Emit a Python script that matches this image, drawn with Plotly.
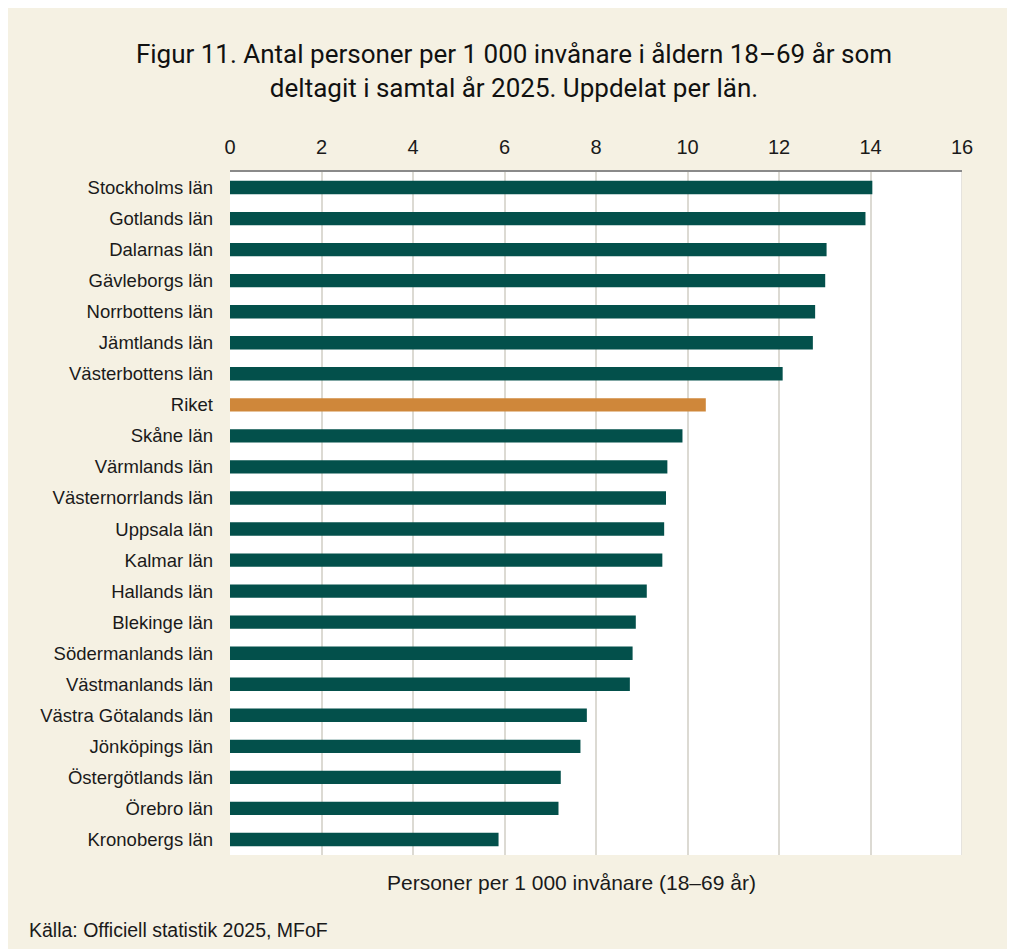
import plotly.graph_objects as go

categories = [
    "Stockholms län", "Gotlands län", "Dalarnas län", "Gävleborgs län",
    "Norrbottens län", "Jämtlands län", "Västerbottens län", "Riket",
    "Skåne län", "Värmlands län", "Västernorrlands län", "Uppsala län",
    "Kalmar län", "Hallands län", "Blekinge län", "Södermanlands län",
    "Västmanlands län", "Västra Götalands län", "Jönköpings län",
    "Östergötlands län", "Örebro län", "Kronobergs län",
]
values = [
    14.04, 13.89, 13.04, 13.01, 12.79, 12.74, 12.08, 10.40,
    9.89, 9.56, 9.53, 9.49, 9.45, 9.11, 8.87, 8.80,
    8.74, 7.80, 7.66, 7.23, 7.18, 5.87,
]
x_ticks = [0, 2, 4, 6, 8, 10, 12, 14, 16]

GREEN = "#03504B"
ORANGE = "#CF873A"
CREAM = "#F5F1E3"

colors = [ORANGE if c == "Riket" else GREEN for c in categories]

W, H = 1015, 949
OFF = 8  # page body margin
L, R, T, B = 222, 61, 164, 102
pw, ph = W - L - R, H - T - B

def px_x(p):
    return (p - OFF - L) / pw

def px_y(p):
    return (H - B - (p - OFF)) / ph

fig = go.Figure(go.Bar(
    x=values, y=categories, orientation="h",
    marker=dict(color=colors, line=dict(width=0)),
    width=0.43,
))

fig.update_layout(
    width=W, height=H,
    margin=dict(l=L, r=R, t=T, b=B),
    paper_bgcolor=CREAM,
    plot_bgcolor="white",
    showlegend=False,
    title=dict(
        text="Figur 11. Antal personer per 1 000 invånare i åldern 18–69 år som<br>deltagit i samtal år 2025. Uppdelat per län.",
        x=(514 - OFF) / W, xref="container", xanchor="center",
        y=1 - (63 - OFF) / H, yref="container", yanchor="top",
        font=dict(family="Roboto, sans-serif", size=26, color="#111111"),
    ),
    xaxis=dict(
        side="top", range=[0, 16], tickvals=x_ticks,
        showgrid=True, gridcolor="#DCDAD3", gridwidth=1.5,
        zeroline=False,
        showline=True, linecolor="#8A8A8A", linewidth=1.5, mirror=False,
        ticks="", ticklabelstandoff=8,
        tickfont=dict(family="Liberation Sans, Arial, sans-serif", size=20, color="#1a1a1a"),
    ),
    yaxis=dict(
        categoryorder="array", categoryarray=categories,
        autorange="reversed",
        showgrid=False, zeroline=False, showline=False,
        ticks="", ticklabelstandoff=16,
        tickfont=dict(family="Liberation Sans, Arial, sans-serif", size=18.5, color="#1a1a1a"),
    ),
    annotations=[
        dict(text="Personer per 1 000 invånare (18–69 år)",
             xref="paper", yref="paper", x=px_x(571), y=px_y(882),
             xanchor="center", yanchor="middle", showarrow=False,
             font=dict(family="Liberation Sans, Arial, sans-serif", size=21, color="#1a1a1a")),
        dict(text="Källa: Officiell statistik 2025, MFoF",
             xref="paper", yref="paper", x=px_x(27), y=px_y(930),
             xanchor="left", yanchor="middle", showarrow=False,
             font=dict(family="Liberation Sans, Arial, sans-serif", size=19.5, color="#1a1a1a")),
    ],
    shapes=[
        dict(type="line", xref="x", yref="paper", x0=16, x1=16, y0=0, y1=1,
             line=dict(color="#DCDAD3", width=1.5), layer="above"),
    ],
)

fig.write_html("out.html")
